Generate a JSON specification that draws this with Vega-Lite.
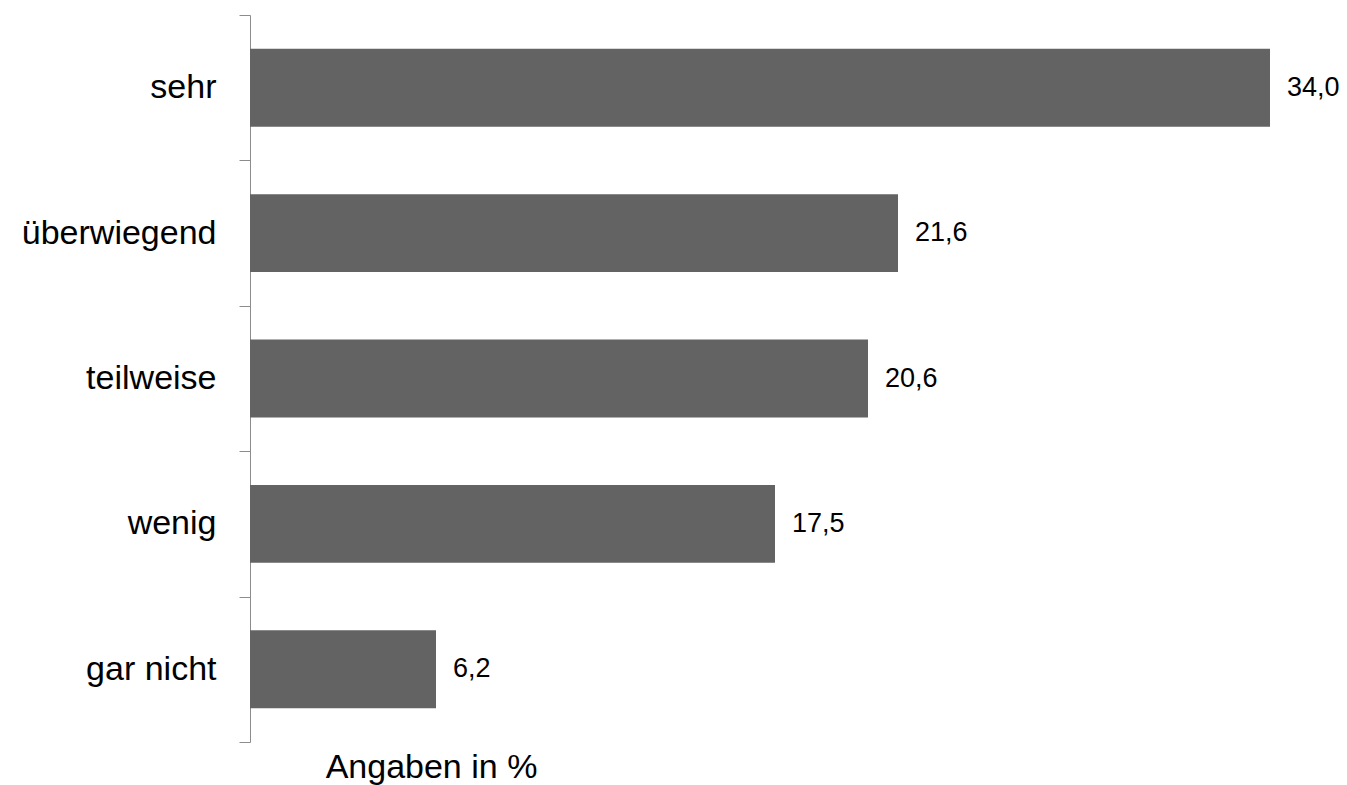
{
  "$schema": "https://vega.github.io/schema/vega-lite/v6.json",
  "width": 1080,
  "height": 727,
  "autosize": {"type": "none"},
  "padding": {"left": 250, "top": 15, "right": 17, "bottom": 43},
  "background": "white",
  "config": {
    "view": {"stroke": null},
    "font": "Liberation Sans"
  },
  "data": {
    "values": [
      {"kategorie": "sehr", "wert": 34.0, "label": "34,0"},
      {"kategorie": "überwiegend", "wert": 21.6, "label": "21,6"},
      {"kategorie": "teilweise", "wert": 20.6, "label": "20,6"},
      {"kategorie": "wenig", "wert": 17.5, "label": "17,5"},
      {"kategorie": "gar nicht", "wert": 6.2, "label": "6,2"}
    ]
  },
  "encoding": {
    "y": {
      "field": "kategorie",
      "type": "nominal",
      "sort": null,
      "scale": {"paddingInner": 0, "paddingOuter": 0},
      "axis": {
        "title": null,
        "tickBand": "extent",
        "domainColor": "#8c8c8c",
        "tickColor": "#8c8c8c",
        "tickSize": 11,
        "labelPadding": 23,
        "labelLimit": 400,
        "labelFont": "Liberation Sans",
        "labelFontSize": 34,
        "labelColor": "#000000",
        "labelFontWeight": "normal"
      }
    },
    "x": {
      "field": "wert",
      "type": "quantitative",
      "scale": {"domain": [0, 36], "nice": false},
      "axis": {
        "title": "Angaben in %",
        "labels": false,
        "ticks": false,
        "domain": false,
        "grid": false,
        "titleFont": "Liberation Sans",
        "titleFontSize": 34,
        "titleFontWeight": "normal",
        "titleColor": "#000000",
        "titleAnchor": "start",
        "titleAlign": "center",
        "titleBaseline": "alphabetic",
        "titleX": 181,
        "titleY": 35
      }
    }
  },
  "layer": [
    {
      "mark": {"type": "bar", "color": "#636363", "height": {"band": 0.536}}
    },
    {
      "mark": {
        "type": "text",
        "align": "left",
        "baseline": "middle",
        "dx": 17,
        "font": "Liberation Sans",
        "fontSize": 27,
        "color": "#000000"
      },
      "encoding": {"text": {"field": "label"}}
    }
  ]
}
